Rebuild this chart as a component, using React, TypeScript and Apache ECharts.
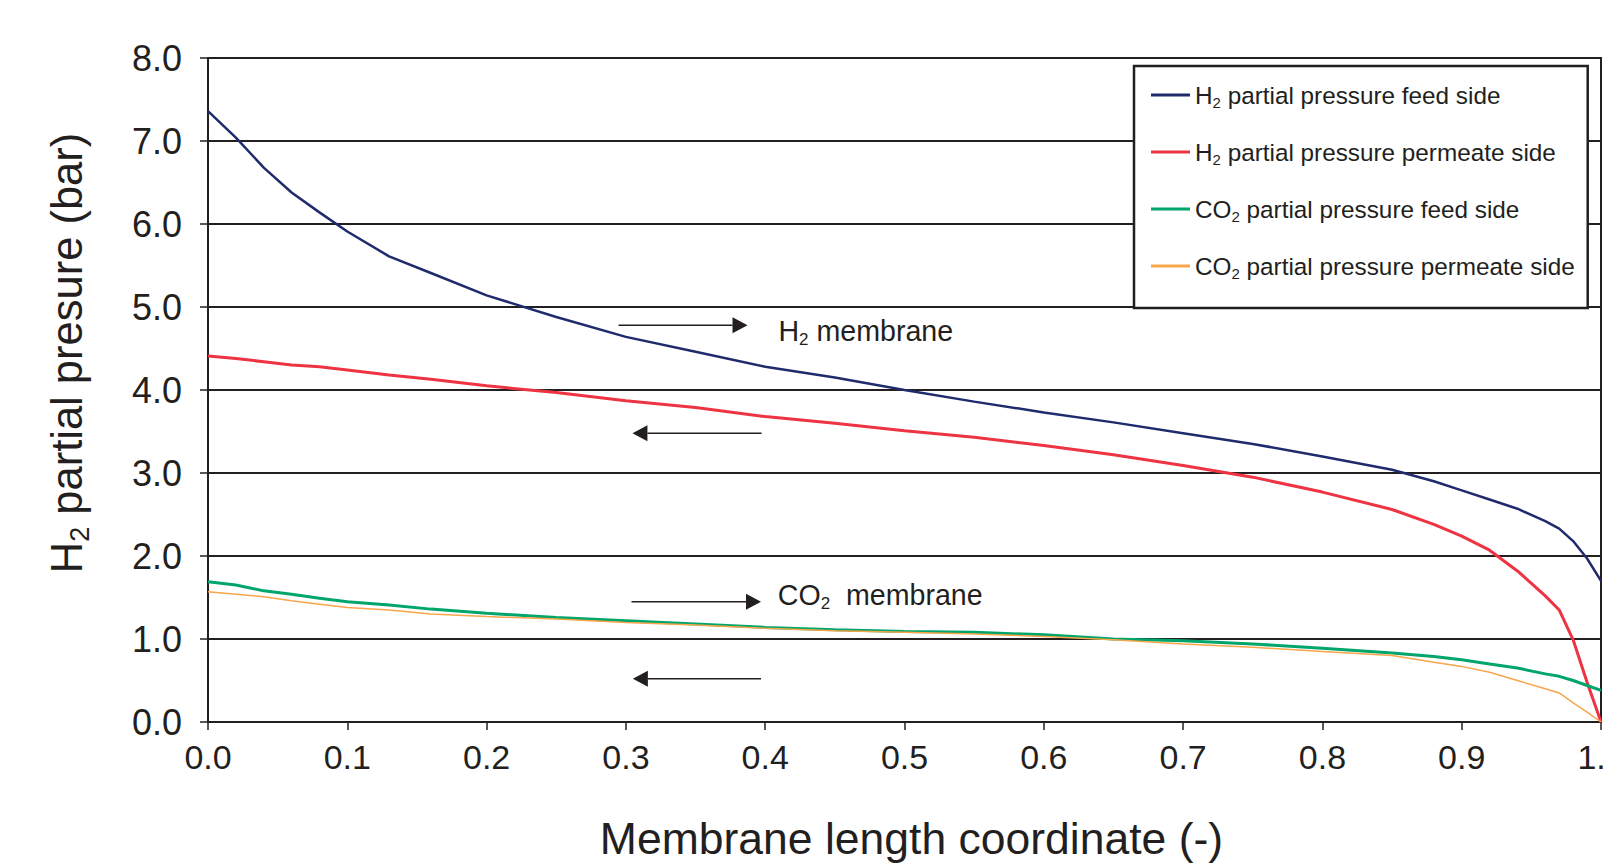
import React, { useEffect, useRef } from "react";
import * as echarts from "echarts";

// Membrane length coordinate (-)
const xCoord = [0, 0.02, 0.04, 0.06, 0.08, 0.1, 0.13, 0.16, 0.2, 0.25, 0.3, 0.35, 0.4, 0.45, 0.5, 0.55, 0.6, 0.65, 0.7, 0.75, 0.8, 0.85, 0.88, 0.9, 0.92, 0.94, 0.96, 0.97, 0.98, 0.99, 1.0];

// partial pressures (bar)
const h2Feed = [7.36, 7.04, 6.68, 6.38, 6.14, 5.91, 5.61, 5.41, 5.14, 4.88, 4.64, 4.46, 4.28, 4.15, 4.0, 3.86, 3.73, 3.61, 3.48, 3.35, 3.2, 3.04, 2.9, 2.79, 2.68, 2.57, 2.42, 2.33, 2.18, 1.97, 1.7];
const h2Permeate = [4.41, 4.38, 4.34, 4.3, 4.28, 4.24, 4.18, 4.13, 4.05, 3.97, 3.87, 3.79, 3.68, 3.6, 3.51, 3.43, 3.33, 3.22, 3.09, 2.95, 2.77, 2.56, 2.38, 2.24, 2.07, 1.82, 1.52, 1.35, 0.99, 0.48, 0.0];
const co2Feed = [1.69, 1.65, 1.58, 1.54, 1.49, 1.45, 1.41, 1.36, 1.31, 1.26, 1.22, 1.18, 1.14, 1.11, 1.09, 1.08, 1.05, 1.0, 0.98, 0.94, 0.89, 0.83, 0.79, 0.75, 0.7, 0.65, 0.58, 0.55, 0.5, 0.44, 0.38];
const co2Permeate = [1.57, 1.54, 1.51, 1.46, 1.42, 1.38, 1.35, 1.3, 1.27, 1.24, 1.2, 1.17, 1.13, 1.1, 1.08, 1.06, 1.03, 0.99, 0.94, 0.9, 0.85, 0.8, 0.72, 0.67, 0.6, 0.5, 0.4, 0.35, 0.23, 0.12, 0.0];

const seriesNames = [
  "H₂ partial pressure feed side",
  "H₂ partial pressure permeate side",
  "CO₂ partial pressure feed side",
  "CO₂ partial pressure permeate side",
];
const legendLabels = [
  "H{sub|2} partial pressure feed side",
  "H{sub|2} partial pressure permeate side",
  "CO{sub|2} partial pressure feed side",
  "CO{sub|2} partial pressure permeate side",
];
const seriesColors = ["#1f2b6c", "#ee3342", "#00a56b", "#f8a54b"];
const seriesWidths = [2.5, 3, 3, 1.5];

const xAxisTitle = "Membrane length coordinate (-)";
const yAxisTitle = "H{sub|2} partial presure (bar)";

// annotation arrows in data coordinates: [tailX, tipX, y]
const arrows = [
  [0.2947, 0.3873, 4.78],
  [0.3974, 0.3047, 3.48],
  [0.304, 0.397, 1.45],
  [0.397, 0.305, 0.52],
];
// annotation labels: [x, y, text]
const notes: [number, number, string][] = [
  [0.4095, 4.71, "H{sub|2} membrane"],
  [0.409, 1.53, "CO{sub|2}  membrane"],
];

const FONT = "'Liberation Sans', Arial, Helvetica, sans-serif";
const INK = "#231f20";

export default function App() {
  const ref = useRef<HTMLDivElement>(null);

  useEffect(() => {
    if (!ref.current) return;
    const chart = echarts.init(ref.current, undefined, { renderer: "svg" });
    const dataSets = [h2Feed, h2Permeate, co2Feed, co2Permeate];

    const option: any = {
      animation: false,
      backgroundColor: "#ffffff",
      textStyle: { fontFamily: FONT, color: INK },
      grid: {
        left: 208,
        right: 2,
        top: 58,
        bottom: 142,
        containLabel: false,
        outerBoundsMode: "none",
        show: true,
        borderColor: INK,
        borderWidth: 2,
        backgroundColor: "transparent",
      },
      xAxis: {
        type: "value",
        min: 0,
        max: 1,
        interval: 0.1,
        name: xAxisTitle,
        nameLocation: "middle",
        nameGap: 94,
        nameTextStyle: { fontSize: 44.5, color: INK, fontFamily: FONT, padding: [0, 0, 0, 14] },
        axisLine: { show: true, lineStyle: { color: INK, width: 2 } },
        axisTick: { show: true, inside: false, length: 8, lineStyle: { color: INK, width: 1.5 } },
        axisLabel: {
          fontSize: 34,
          color: INK,
          margin: 18,
          fontFamily: FONT,
          formatter: (v: number) => v.toFixed(1),
        },
        splitLine: { show: false },
      },
      yAxis: {
        type: "value",
        min: 0,
        max: 8,
        interval: 1,
        axisLine: { show: true, lineStyle: { color: INK, width: 2 } },
        axisTick: { show: true, inside: false, length: 8, lineStyle: { color: INK, width: 1.5 } },
        axisLabel: {
          fontSize: 36,
          color: INK,
          margin: 26,
          fontFamily: FONT,
          formatter: (v: number) => v.toFixed(1),
        },
        splitLine: { show: true, lineStyle: { color: INK, width: 2 } },
      },
      legend: {
        orient: "vertical",
        left: 1134,
        top: 66,
        padding: [14, 13, 27, 17],
        itemGap: 27,
        itemWidth: 39,
        itemHeight: 3,
        icon: "rect",
        backgroundColor: "#ffffff",
        borderColor: INK,
        borderWidth: 2.5,
        data: seriesNames,
        formatter: (name: string) => legendLabels[seriesNames.indexOf(name)],
        textStyle: {
          fontSize: 24.3,
          fontFamily: FONT,
          color: INK,
          lineHeight: 30,
          rich: {
            sub: { fontSize: 15, lineHeight: 15, verticalAlign: "bottom", fontFamily: FONT, color: INK },
          },
        },
      },
      series: dataSets.map((arr, i) => ({
        name: seriesNames[i],
        type: "line",
        data: xCoord.map((x, j) => [x, arr[j]]),
        showSymbol: false,
        symbol: "none",
        color: seriesColors[i],
        lineStyle: { color: seriesColors[i], width: seriesWidths[i] },
        z: 3 + i,
      })),
    };
    chart.setOption(option);

    const graphics: any[] = [];
    arrows.forEach(([tailX, tipX, y]) => {
      const tail = chart.convertToPixel({ gridIndex: 0 }, [tailX, y]);
      const tip = chart.convertToPixel({ gridIndex: 0 }, [tipX, y]);
      const dir = tip[0] > tail[0] ? 1 : -1;
      const headLen = 15;
      const headHalf = 8;
      graphics.push({
        type: "line",
        shape: { x1: tail[0], y1: tail[1], x2: tip[0] - dir * headLen, y2: tip[1] },
        style: { stroke: INK, lineWidth: 1.5 },
        z: 20,
      });
      graphics.push({
        type: "polygon",
        shape: {
          points: [
            [tip[0], tip[1]],
            [tip[0] - dir * headLen, tip[1] - headHalf],
            [tip[0] - dir * headLen, tip[1] + headHalf],
          ],
        },
        style: { fill: INK },
        z: 20,
      });
    });
    notes.forEach(([x, y, text]) => {
      const p = chart.convertToPixel({ gridIndex: 0 }, [x, y]);
      graphics.push({
        type: "text",
        x: p[0],
        y: p[1],
        z: 20,
        style: {
          text,
          fontSize: 28.6,
          fontFamily: FONT,
          fill: INK,
          align: "left",
          verticalAlign: "middle",
          lineHeight: 34,
          rich: {
            sub: { fontSize: 17, lineHeight: 17, verticalAlign: "bottom", fontFamily: FONT, fill: INK },
          },
        },
      });
    });
    graphics.push({
      type: "text",
      x: 67,
      y: 353,
      rotation: Math.PI / 2,
      z: 20,
      style: {
        text: yAxisTitle,
        fontSize: 43.5,
        fontFamily: FONT,
        fill: INK,
        align: "center",
        verticalAlign: "middle",
        lineHeight: 52,
        rich: {
          sub: { fontSize: 27, lineHeight: 27, verticalAlign: "bottom", fontFamily: FONT, fill: INK },
        },
      },
    });
    chart.setOption({ graphic: graphics });

    return () => chart.dispose();
  }, []);

  return (
    <div
      ref={ref}
      style={{ position: "absolute", left: 0, top: 0, width: 1603, height: 864, background: "#fff" }}
    />
  );
}
